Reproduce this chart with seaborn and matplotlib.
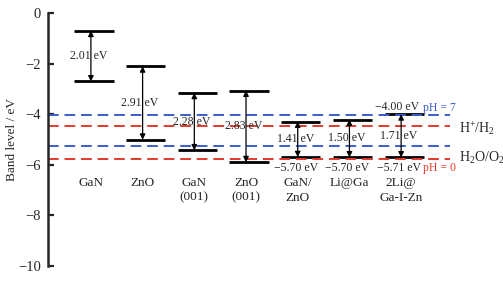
import numpy as np
import seaborn as sns
import matplotlib.pyplot as plt

categories = ['GaN', 'ZnO', 'GaN\n(001)', 'ZnO\n(001)', 'GaN/\nZnO', 'Li@Ga', '2Li@\nGa-I-Zn']
cb = [-0.69, -2.10, -3.15, -3.06, -4.29, -4.21, -4.00]
vb = [-2.70, -5.01, -5.43, -5.90, -5.70, -5.71, -5.71]
gap_labels = ['2.01 eV', '2.91 eV', '2.28 eV', '2.83 eV', '1.41 eV', '1.50 eV', '1.71 eV']
vb_labels = {4: '\u22125.70 eV', 5: '\u22125.70 eV', 6: '\u22125.71 eV'}
cb_labels = {6: '\u22124.00 eV'}
redox_ph7 = [-4.03, -5.26]
redox_ph0 = [-4.45, -5.77]
yticks = [0, -2, -4, -6, -8, -10]

sns.set_style('ticks')
plt.rcParams['font.family'] = ['Liberation Serif', 'DejaVu Serif']
plt.rcParams['mathtext.fontset'] = 'custom'
plt.rcParams['mathtext.rm'] = 'Liberation Serif'
plt.rcParams['mathtext.it'] = 'Liberation Serif:italic'

blue = '#3b5fc8'
red = '#e23a2c'

fig = plt.figure(figsize=(5.03, 2.83), dpi=100)
ax = fig.add_axes([0.0954, 0.0611, 0.9046, 0.8919])

x = np.arange(len(categories))
hw = 0.38
ax.hlines(cb, x - hw, x + hw, color='black', lw=2)
ax.hlines(vb, x - hw, x + hw, color='black', lw=2)

# redox potential lines
for y in redox_ph7:
    ax.plot([-0.89, 6.89], [y, y], color=blue, lw=1.4, dashes=(5.5, 3))
for y in redox_ph0:
    ax.plot([-0.89, 6.89], [y, y], color=red, lw=1.4, dashes=(5.5, 3))

# band gap arrows + labels
for i in range(len(categories)):
    xa = x[i] - 0.06
    ax.annotate('', xy=(xa, vb[i]), xytext=(xa, cb[i]),
                arrowprops=dict(arrowstyle='<|-|>', lw=0.9, color='black',
                                mutation_scale=8, shrinkA=0, shrinkB=0))
    ax.text(xa - 0.05, (cb[i] + vb[i]) / 2, gap_labels[i], ha='center', va='center',
            fontsize=8.5)
    ax.text(xa, -6.5, categories[i], ha='center', va='top', fontsize=9.5,
            linespacing=1.25)
for i, lab in vb_labels.items():
    ax.text(x[i] - 0.1, vb[i] - 0.2, lab, ha='center', va='top', fontsize=8.5)
for i, lab in cb_labels.items():
    ax.text(x[i] - 0.14, cb[i] + 0.05, lab, ha='center', va='bottom', fontsize=8.5)

ax.text(6.36, -4.0, 'pH = 7', color=blue, fontsize=8.5, va='bottom', ha='left')
ax.text(6.36, -5.9, 'pH = 0', color=red, fontsize=8.5, va='top', ha='left')
ax.text(7.05, -4.55, r'H$^{+}$/H$_2$', fontsize=10, va='center', ha='left')
ax.text(7.05, -5.72, r'H$_2$O/O$_2$', fontsize=10, va='center', ha='left')

ax.set_xlim(-0.89, 7.91)
ax.set_ylim(-10, 0)
ax.set_yticks(yticks)
ax.set_yticklabels([str(t).replace('-', '\u2212') for t in yticks], fontsize=10.5)
ax.set_xticks([])
ax.set_ylabel('Band level / eV', fontsize=9.5, labelpad=0)
ax.tick_params(axis='y', direction='in', length=4, width=1.6, pad=5)
sns.despine(ax=ax, bottom=True)
ax.spines['left'].set_linewidth(1.8)
ax.patch.set_alpha(0)

fig.savefig('out.png', dpi=100)
